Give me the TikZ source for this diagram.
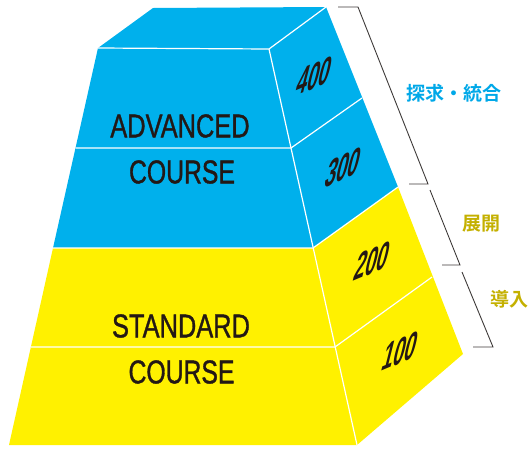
\documentclass[tikz,border=0pt]{standalone}
\usepackage{fontspec}
\setmainfont{Liberation Sans}
\newfontfamily\numfont{Liberation Sans}
\newfontfamily\coursefont{Liberation Sans}[FakeBold=1.2]
\newfontfamily\jpfont{Noto Sans CJK JP}[UprightFont=* Bold]
\definecolor{cblue}{HTML}{00B0EC}
\definecolor{cyell}{HTML}{FFF100}
\definecolor{ink}{HTML}{231815}
\definecolor{lblue}{HTML}{00A8E8}
\definecolor{olive}{HTML}{C4B000}
\definecolor{brk}{HTML}{3E3A39}
\begin{document}
\begin{tikzpicture}[x=1pt,y=-1pt,
  edge/.style={draw=white,line width=1.2pt,line join=round},
  bracket/.style={draw=brk,line width=0.9pt},
  course/.style={font=\coursefont\fontsize{33}{33}\selectfont, text=ink, inner sep=0pt},
  level/.style={font=\numfont\bfseries\fontsize{40}{40}\selectfont, text=ink, inner sep=0pt, cm={1,0.42,0.25,1,(0,0)}},
  jlab/.style={font=\jpfont\fontsize{19}{19}\selectfont, inner sep=0pt}]
\useasboundingbox (0,0) rectangle (529,448);
% coordinates
\coordinate (T1) at (153,8);
\coordinate (T2) at (326,7);
\coordinate (S0) at (269,49);
\coordinate (L0) at (98,48);
\coordinate (S1) at (291,148);
\coordinate (L1) at (75.6,148);
\coordinate (S2) at (313,248);
\coordinate (L2) at (53,248);
\coordinate (S3) at (335,347);
\coordinate (L3) at (31,347);
\coordinate (S4) at (357,445);
\coordinate (L4) at (9,445);
\coordinate (O1) at (362,98);
\coordinate (O2) at (398,187);
\coordinate (O3) at (432,277);
\coordinate (O4) at (463,354);
% fills
\fill[cblue] (T1) -- (T2) -- (O2) -- (S2) -- (L2) -- (L0) -- cycle;
\fill[cyell] (L2) -- (S2) -- (O2) -- (O4) -- (S4) -- (L4) -- cycle;
% white edges
\draw[edge] (L0) -- (S0) -- (T2);
\draw[edge] (S0) -- (S4);
\draw[edge] (L1) -- (S1) -- (O1);
\draw[edge] (L2) -- (S2) -- (O2);
\draw[edge] (L3) -- (S3) -- (O3);
% course labels
\node[course] (adv) at (180,126) {\scalebox{0.77}[1]{ADVANCED}};
\node[course] (advc) at (182,172) {\scalebox{0.75}[1]{COURSE}};
\node[course] (std) at (181,326) {\scalebox{0.77}[1]{STANDARD}};
\node[course] (stdc) at (181.5,372) {\scalebox{0.75}[1]{COURSE}};
% level numbers
\node[level] (n400) at (314.5,76) {\scalebox{0.5}[1]{400}};
\node[level] (n300) at (343.5,167.5) {\scalebox{0.5}[1]{300}};
\node[level] (n200) at (372.5,261) {\scalebox{0.5}[1]{200}};
\node[level] (n100) at (400.5,351) {\scalebox{0.5}[1]{100}};
% brackets
\coordinate (B1a) at (338,7);
\coordinate (B1b) at (358,7);
\coordinate (B1c) at (428,184);
\coordinate (B1d) at (409,184);
\draw[bracket] (B1a) -- (B1b) -- (B1c) -- (B1d);
\coordinate (B2a) at (430,190);
\coordinate (B2b) at (460,265);
\coordinate (B2c) at (442,265);
\draw[bracket] (B2a) -- (B2b) -- (B2c);
\coordinate (B3a) at (462,272);
\coordinate (B3b) at (493,347);
\coordinate (B3c) at (473,347);
\draw[bracket] (B3a) -- (B3b) -- (B3c);
% side labels
\node[jlab, text=lblue] (lab1) at (454,93) {探求・統合};
\node[jlab, text=olive] (lab2) at (481,223.5) {展開};
\node[jlab, text=olive] (lab3) at (509,299.5) {導入};
\end{tikzpicture}
\end{document}
